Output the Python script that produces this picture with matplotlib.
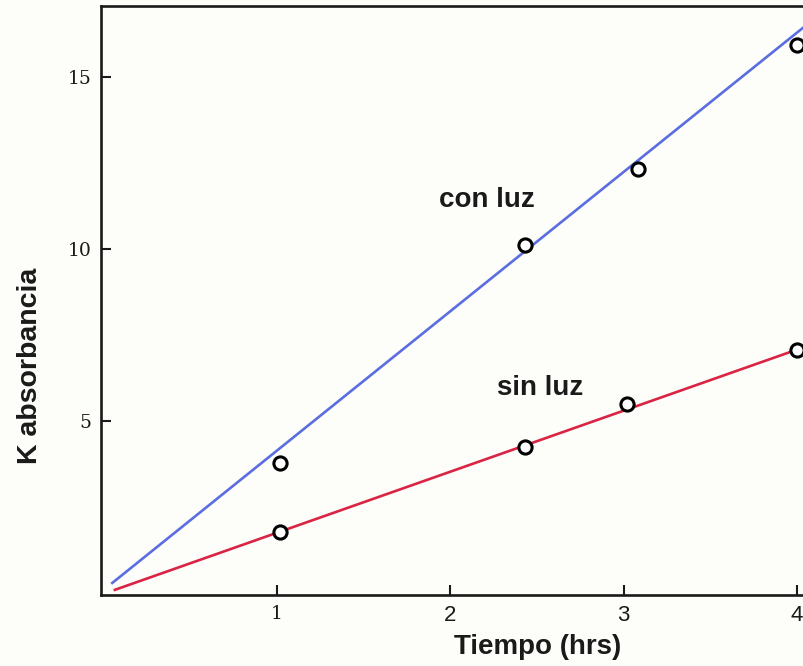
import matplotlib
matplotlib.use("Agg")
import matplotlib.pyplot as plt

# measured points (hours, K absorbancia)
con_luz_x = [1.02, 2.43, 3.08, 4.0]
con_luz_y = [3.78, 10.12, 12.33, 15.93]
sin_luz_x = [1.02, 2.43, 3.02, 4.0]
sin_luz_y = [1.77, 4.24, 5.50, 7.06]

# fitted lines drawn by hand in the original
con_fit_x = [0.05, 4.04]
con_fit_y = [0.29, 16.45]
sin_fit_x = [0.065, 3.97]
sin_fit_y = [0.09, 7.02]

x_ticks = [1, 2, 3, 4]
y_ticks = [5, 10, 15]

BG = "#fdfdf9"
INK = "#1a1a1a"

fig = plt.figure(figsize=(8.04, 6.66), dpi=100, facecolor=BG)
ax = fig.add_axes([101 / 804, 1 - 595 / 666, 1 - 101 / 804, (595 - 6) / 666])
ax.set_facecolor(BG)

ax.plot(con_fit_x, con_fit_y, color="#5b6de0", lw=1.9, zorder=2)
ax.plot(sin_fit_x, sin_fit_y, color="#d92443", lw=1.9, zorder=2)

marker_kw = dict(ls="none", marker="o", ms=9.5, mfc="white", mec="black", mew=2.2, zorder=3,
                 clip_on=False)
ax.plot(con_luz_x, con_luz_y, **marker_kw)
ax.plot(sin_luz_x, sin_luz_y, **marker_kw)

ax.text(2.21, 11.42, "con luz", fontsize=20, fontweight="bold", family="Liberation Sans",
        ha="center", va="center", color=INK)
ax.text(2.52, 5.96, "sin luz", fontsize=20, fontweight="bold", family="Liberation Sans",
        ha="center", va="center", color=INK)

ax.set_xlim(-0.015, 4.04)
ax.set_ylim(-0.06, 17.06)
ax.set_xticks(x_ticks)
ax.set_yticks(y_ticks)
ax.tick_params(direction="in", length=7, width=1.5, pad=7, labelsize=16, colors=INK)

for lab in ax.get_yticklabels():
    lab.set_fontfamily("DejaVu Serif")
    lab.set_fontsize(13.5)
for lab in ax.get_xticklabels():
    if lab.get_text() == "1":
        lab.set_fontfamily("DejaVu Serif")
        lab.set_fontsize(13.5)
    else:
        lab.set_fontfamily("Liberation Sans")

for side in ["left", "top", "bottom"]:
    ax.spines[side].set_linewidth(1.9)
    ax.spines[side].set_color(INK)
ax.spines["right"].set_visible(False)

fig.text(30 / 804, 1 - 366 / 666, "K absorbancia", rotation=90, fontsize=20.5,
         fontweight="bold", family="Liberation Sans", ha="center", va="center", color=INK)
fig.text(538 / 804, 1 - 647 / 666, "Tiempo (hrs)", fontsize=20,
         fontweight="bold", family="Liberation Sans", ha="center", va="center", color=INK)

fig.savefig("out.png", dpi=100, facecolor=BG)
